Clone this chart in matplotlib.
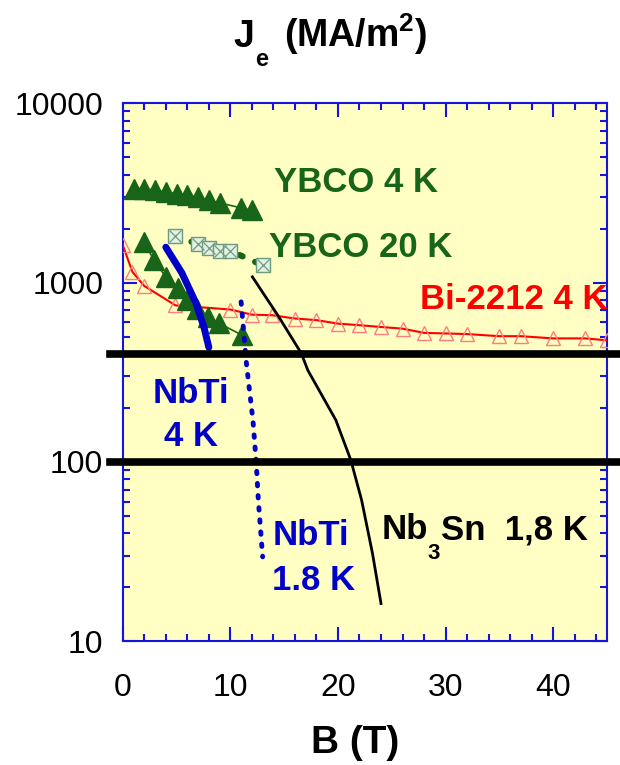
import numpy as np
import matplotlib
matplotlib.use('Agg')
import matplotlib.pyplot as plt
from matplotlib.ticker import MultipleLocator, LogLocator, FuncFormatter, NullFormatter

plt.rcParams['font.family'] = ['Liberation Sans', 'DejaVu Sans']
plt.rcParams['mathtext.default'] = 'regular'

# YBCO 4 K (upper set)
ybco4_B = [1.0, 2.0, 3.0, 4.0, 5.0, 6.0, 7.0, 8.0, 9.0, 11.0, 12.0]
ybco4_J = [3340, 3340, 3270, 3200, 3130, 3070, 3000, 2880, 2780, 2610, 2530]
# YBCO 4 K (lower set)
ybco4b_B = [2.0, 2.9, 4.0, 5.1, 6.0, 6.9, 7.9, 8.9, 11.1]
ybco4b_J = [1680, 1330, 1075, 927, 797, 716, 643, 595, 508]
# YBCO 20 K
ybco20_B = [4.9, 7.0, 8.0, 9.0, 10.0, 13.0]
ybco20_J = [1810, 1640, 1550, 1500, 1500, 1250]
# Bi-2212 4 K
bi_B = [0, 0.9, 2, 4.9, 10, 12, 13.9, 16, 18, 20, 22, 24, 26, 28, 30, 32, 35, 37, 40, 43, 45]
bi_J = [1615, 1146, 957, 746, 707, 662, 657, 630, 617, 590, 578, 565, 553, 524, 520,
        516, 502, 502, 488, 488, 476]
# NbTi 4 K
nbti4_B = [4.0, 5.5, 6.8, 7.55, 8.0]
nbti4_J = [1575, 1130, 768, 562, 435]
# NbTi 1.8 K
nbti18_B = [11.0, 11.5, 12.1, 12.4, 12.6, 13.0]
nbti18_J = [780, 350, 170, 100, 61, 29.5]
# Nb3Sn 1.8 K
nb3sn_B = [12.05, 14.5, 16.6, 17.2, 19.8, 21.2, 22.2, 23.2, 24.0]
nb3sn_J = [1075, 644, 402, 324, 171, 102, 61, 31, 16.2]

# reference levels
ref_J = [400, 100]

green = '#186418'
blue = '#0000c8'
axblue = '#1414dc'

fig = plt.figure(figsize=(6.2, 7.65), dpi=100)
ax = fig.add_axes([0.198, 0.162, 0.781, 0.703])
ax.set_facecolor('#ffffc4')
ax.set_yscale('log')
ax.set_xlim(0, 45)
ax.set_ylim(10, 10000)

# curves
ax.plot(bi_B, bi_J, color='red', lw=1.5, marker='^', ms=10, mfc='none',
        mec='#ff7c7c', mew=1.0, zorder=3)
ax.plot(ybco4_B, ybco4_J, color=green, lw=1.2, marker='^', ms=14, zorder=4)
ax.plot(ybco4b_B, ybco4b_J, color=green, lw=1.2, marker='^', ms=14, zorder=4)
ax.plot(ybco20_B, ybco20_J, color=green, lw=4.5, ls=(0, (0.5, 2.2)),
        dash_capstyle='round', zorder=3)
ax.plot(ybco20_B, ybco20_J, ls='none', marker='s', ms=10, mfc='#e4f2e4',
        mec='#6e9a80', mew=1.0, zorder=4)
ax.plot(ybco20_B, ybco20_J, ls='none', marker='x', ms=8, mec='#6e9a80',
        mew=0.9, zorder=5)
ax.plot(nbti4_B, nbti4_J, color=blue, lw=5, solid_capstyle='round', zorder=4)
ax.plot(nbti18_B, nbti18_J, color=blue, lw=3.5, ls=(0, (0.5, 2.0)),
        dash_capstyle='round', zorder=4)
ax.plot(nb3sn_B, nb3sn_J, color='black', lw=2, zorder=4)

for j in ref_J:
    ax.axhline(j, xmin=-0.027, xmax=1.04, color='black', lw=5.5,
               clip_on=False, zorder=6)

# labels
kw = dict(fontsize=25, fontweight='bold', va='baseline')
ax.text(14.07, 3190, 'YBCO 4 K', color=green, **kw)
ax.text(13.6, 1384, 'YBCO 20 K', color=green, **kw)
ax.text(27.6, 710, 'Bi-2212 4 K', color='red', zorder=7, **kw)
ax.text(6.34, 212, 'NbTi', color=blue, ha='center', **kw)
ax.text(6.34, 122, '4 K', color=blue, ha='center', **kw)
ax.text(13.9, 34.3, 'NbTi', color=blue, **kw)
ax.text(13.9, 19.2, '1.8 K', color=blue, **kw)
ax.text(24.05, 37, 'Nb', color='black', **kw)
ax.annotate('3', xy=(24.05, 37), xytext=(33, -14), textcoords='offset points',
            fontsize=16, fontweight='bold', va='baseline')
ax.annotate('Sn  1,8 K', xy=(24.05, 37), xytext=(43, 0), textcoords='offset points',
            fontsize=25, fontweight='bold', va='baseline')

# axes styling
ax.xaxis.set_major_locator(MultipleLocator(10))
ax.xaxis.set_minor_locator(MultipleLocator(2))
ax.yaxis.set_major_locator(LogLocator(base=10))
ax.yaxis.set_minor_locator(LogLocator(base=10, subs=np.arange(2, 10)))
ax.yaxis.set_major_formatter(FuncFormatter(lambda v, p: '%d' % v))
ax.yaxis.set_minor_formatter(NullFormatter())
ax.tick_params(which='both', direction='in', top=True, right=True,
               color=axblue, width=1.5, labelsize=23, labelcolor='black')
ax.tick_params(which='major', length=10)
ax.tick_params(which='minor', length=5)
ax.tick_params(axis='y', pad=14)
ax.tick_params(axis='x', pad=23)
for s in ax.spines.values():
    s.set_color(axblue)
    s.set_linewidth(1.5)

# title J_e (MA/m^2), subscript set lower like the original
tkw = dict(fontweight='bold', va='baseline', ha='left')
fig.text(233 / 620, 1 - 47 / 765, 'J', fontsize=27, **tkw)
fig.text(255 / 620, 1 - 66 / 765, 'e', fontsize=17, **tkw)
fig.text(284 / 620, 1 - 47 / 765, '(MA/m$^2$)', fontsize=27, **tkw)
fig.text(0.573, 0.0157, 'B (T)', fontsize=28, fontweight='bold',
         ha='center', va='baseline')

fig.savefig('out.png', dpi=100)
